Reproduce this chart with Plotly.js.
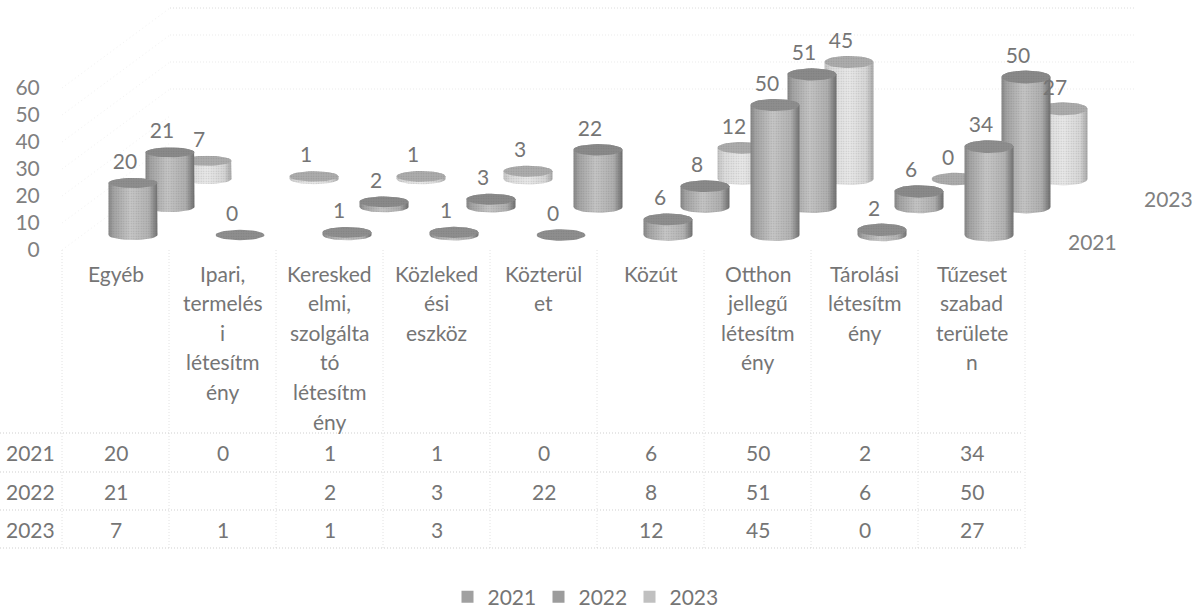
<!DOCTYPE html>
<html><head><meta charset="utf-8">
<script src="https://cdn.plot.ly/plotly-3.0.1.min.js"></script>
<style>html,body{margin:0;padding:0;background:#fff}#c{width:1200px;height:609px}</style>
</head><body><div id="c"></div>
<script>
const categories = ["Egyéb","Ipari,\ntermelés\ni\nlétesítm\nény","Keresked\nelmi,\nszolgálta\ntó\nlétesítm\nény","Közleked\nési\neszköz","Közterül\net","Közút","Otthon\njellegű\nlétesítm\nény","Tárolási\nlétesítm\nény","Tűzeset\nszabad\nterülete\nn"];
const years = ["2021","2022","2023"];
const s2021 = [20,0,1,1,0,6,50,2,34];
const s2022 = [21,null,2,3,22,8,51,6,50];
const s2023 = [7,1,1,3,null,12,45,0,27];
const yTicks = [0,10,20,30,40,50,60];

const W=1200,H=609,ML=60,MB=0,PH=H-MB;
const series=[s2021,s2022,s2023];
const FONT='Lato, "Open Sans", sans-serif', TXT='#757575', FS=21;
const PX=2.6, BASEY=235, DEPTHY=28, DEPTHX=37, SLOTX=107, X0=133;
const slotPx=(i,d)=>X0+SLOTX*i+DEPTHX*d;
const vPx=px=>px/PX;
const depthBase=d=>vPx(DEPTHY*d);
const RX=24.5;
const ry=i=>5+0.18*i;
const py=y=>1-y/PH, fx=x=>(x-ML)/(W-ML);

const bodyScales=[
 [[0,'#858585'],[.1,'#a2a2a2'],[.45,'#c6c6c6'],[.82,'#b2b2b2'],[1,'#727272']],
 [[0,'#858585'],[.1,'#a2a2a2'],[.45,'#c4c4c4'],[.82,'#aeaeae'],[1,'#6e6e6e']],
 [[0,'#c4c4c4'],[.15,'#dcdcdc'],[.5,'#e8e8e8'],[.85,'#d6d6d6'],[1,'#a8a8a8']]];
const capCols=['#8e8e8e','#8a8a8a','#acacac'];
const dither={shape:'.',size:2.5,solidity:.22,fgcolor:'rgba(70,70,70,.22)',bgcolor:'rgba(0,0,0,0)'};

const angles=[...Array(37).keys()].map(k=>k*Math.PI/18);
function body(cx,b,t,i){
  const xs=[],ys=[],r=vPx(ry(i));
  for(let k=18;k<=36;k++){xs.push(cx+RX*Math.cos(angles[k]));ys.push(b+r*Math.sin(angles[k]));}
  for(let k=0;k<=18;k++){xs.push(cx+RX*Math.cos(angles[k]));ys.push(t+r*Math.sin(angles[k]));}
  return {xs,ys};
}
function cap(cx,t,i){
  const r=vPx(ry(i));
  return {xs:angles.map(a=>cx+RX*Math.cos(a)),ys:angles.map(a=>t+r*Math.sin(a))};
}
const traces=[];
for(let d=2;d>=0;d--){
  series[d].forEach((v,i)=>{
    if(v===null)return;
    const cx=slotPx(i,d),b=depthBase(d),t=b+v;
    if(v>0){
      const p=body(cx,b,t,i);
      traces.push({type:'scatter',mode:'lines',x:p.xs,y:p.ys,fill:'toself',line:{width:0},hoverinfo:'skip',showlegend:false,
        fillcolor:'#aaa',fillgradient:{type:'horizontal',colorscale:bodyScales[d]}});
      traces.push({type:'scatter',mode:'lines',x:p.xs,y:p.ys,fill:'toself',line:{width:0},hoverinfo:'skip',showlegend:false,fillcolor:'rgba(0,0,0,0)',fillpattern:dither});
    }
    const c=cap(cx,t,i);
    traces.push({type:'scatter',mode:'lines',x:c.xs,y:c.ys,fill:'toself',line:{width:0},hoverinfo:'skip',showlegend:false,fillcolor:capCols[d]});
    traces.push({type:'scatter',mode:'lines',x:c.xs,y:c.ys,fill:'toself',line:{width:0},hoverinfo:'skip',showlegend:false,fillcolor:'rgba(0,0,0,0)',fillpattern:dither});
  });
}
// data labels
series.forEach((vals,d)=>{
  const idx=vals.map((v,i)=>v===null?-1:i).filter(i=>i>=0);
  traces.push({type:'scatter',mode:'text',x:idx.map(i=>slotPx(i,d)-8),y:idx.map(i=>depthBase(d)+vals[i]+vPx(19.5)),
    text:idx.map(i=>String(vals[i])),textposition:'middle center',textfont:{family:FONT,size:FS,color:TXT},cliponaxis:false,hoverinfo:'skip',showlegend:false});
});
// legend entries
const legCols=['#a0a0a0','#9c9c9c','#c0c0c0'];
years.forEach((y,d)=>traces.push({type:'scatter',mode:'markers',x:[null],y:[null],name:y,marker:{symbol:'square',size:12,color:legCols[d]},showlegend:true}));
// y axis carrier
traces.push({type:'scatter',mode:'markers',x:[null],y:[null],yaxis:'y2',showlegend:false,hoverinfo:'skip'});

const ann=[],shapes=[];
const rowY=[452,491,529];
const colCentre=i=>115.5+SLOTX*i;
categories.forEach((c,i)=>{
  c.split('\n').forEach((ln,k)=>ann.push({xref:'x',yref:'paper',x:colCentre(i),y:py(273+29.6*k),text:ln,showarrow:false,xanchor:'center',yanchor:'middle',font:{family:FONT,size:FS,color:TXT}}));
  series.forEach((vals,d)=>{ if(vals[i]!==null) ann.push({xref:'x',yref:'paper',x:colCentre(i),y:py(rowY[d]),text:String(vals[i]),showarrow:false,xanchor:'center',yanchor:'middle',font:{family:FONT,size:FS,color:TXT}}); });
});
years.forEach((y,d)=>ann.push({xref:'paper',yref:'paper',x:fx(30),y:py(rowY[d]),text:y,showarrow:false,xanchor:'center',yanchor:'middle',font:{family:FONT,size:FS,color:TXT}}));
ann.push({xref:'x',yref:'paper',x:1092,y:py(241),text:'2021',showarrow:false,font:{family:FONT,size:FS,color:'#808080'}});
ann.push({xref:'x',yref:'paper',x:1168,y:py(184),text:'2023',showarrow:false,font:{family:FONT,size:FS,color:'#808080'}});

const gl={color:'#e2e2e2',width:1,dash:'1px,2px'};
for(let k=0;k<=9;k++){const x=62+SLOTX*k; shapes.push({type:'line',xref:'x',yref:'paper',x0:x,x1:x,y0:py(250),y1:py(548),line:gl,layer:'below'});}
[433,472,510,548].forEach(y=>shapes.push({type:'line',xref:'paper',yref:'paper',x0:fx(0),x1:fx(1023),y0:py(y),y1:py(y),line:{color:'#cfcfcf',width:1,dash:'1px,2px'},layer:'below'}));
const wall={color:'#f1f1f1',width:1,dash:'1px,3px'};
yTicks.forEach(t=>{
  const front=250-2.7*t, back=front-80;
  shapes.push({type:'line',xref:'x',yref:'paper',x0:62,x1:170,y0:py(front),y1:py(back),line:wall,layer:'below'});
  if(t>=30) shapes.push({type:'line',xref:'x',yref:'paper',x0:170,x1:1135,y0:py(back),y1:py(back),line:{color:t>=60?'#dcdcdc':'#ebebeb',width:1,dash:'1px,2px'},layer:'below'});
});

const layout={
 width:W,height:H,margin:{l:ML,r:0,t:0,b:MB,autoexpand:false},paper_bgcolor:'#fff',plot_bgcolor:'rgba(0,0,0,0)',
 xaxis:{range:[ML,W],visible:false,fixedrange:true},
 yaxis:{range:[-(PH-BASEY)/PX,BASEY/PX],visible:false,fixedrange:true},
 yaxis2:{overlaying:'y',side:'left',range:[-(PH-250)/2.7,250/2.7],tickvals:yTicks,ticktext:yTicks.map(String),showgrid:false,zeroline:false,showline:false,
   ticks:'outside',ticklen:15,tickcolor:'rgba(0,0,0,0)',tickfont:{family:FONT,size:FS,color:'#808080'},fixedrange:true},
 legend:{orientation:'h',xref:'container',yref:'container',x:584/W,xanchor:'center',y:1-597/H,yanchor:'middle',font:{family:FONT,size:FS,color:TXT},itemwidth:30,entrywidth:46,entrywidthmode:'pixels',bgcolor:'rgba(0,0,0,0)'},
 annotations:ann,shapes:shapes,showlegend:true
};
Plotly.newPlot('c',traces,layout,{displayModeBar:false,staticPlot:true});
</script></body></html>
